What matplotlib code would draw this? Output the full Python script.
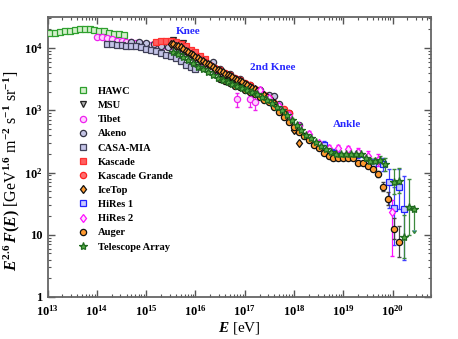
import matplotlib
matplotlib.use('Agg')
import matplotlib.pyplot as plt
import numpy as np
from matplotlib.ticker import FuncFormatter, LogLocator

plt.rcParams['font.family'] = ['Liberation Serif', 'DejaVu Serif']
plt.rcParams['font.weight'] = 'bold'
plt.rcParams['mathtext.fontset'] = 'custom'
plt.rcParams['mathtext.rm'] = 'Liberation Serif:bold'
plt.rcParams['mathtext.it'] = 'Liberation Serif:bold:italic'
plt.rcParams['mathtext.bf'] = 'Liberation Serif:bold'

# --- data: log10(E/eV) and log10(E^2.6 F(E)) ---
hawc_le = [13.05, 13.15, 13.25, 13.35, 13.45, 13.55, 13.65, 13.75, 13.85, 13.95,
           14.05, 14.15, 14.25, 14.35, 14.45, 14.55]
hawc_lf = [4.24, 4.25, 4.26, 4.27, 4.28, 4.29, 4.30, 4.30, 4.30, 4.29,
           4.28, 4.27, 4.25, 4.23, 4.22, 4.21]

msu_le = [15.55, 15.75, 15.95, 16.05, 16.25, 16.5, 16.75, 17.0]
msu_lf = [4.13, 4.08, 3.86, 3.70, 3.73, 3.62, 3.52, 3.40]

tibet_le = [14.0, 14.1, 14.2, 14.3, 14.4, 14.5, 14.6, 14.7, 14.8, 14.9, 15.0, 15.1,
            15.2, 15.3, 15.4, 15.5, 15.6, 15.7, 15.8, 15.9, 16.0, 16.2, 16.4, 16.6,
            16.85, 17.1, 17.2]
tibet_lf = [4.18, 4.17, 4.16, 4.14, 4.12, 4.11, 4.10, 4.09, 4.08, 4.07, 4.06, 4.05,
            4.04, 4.04, 4.04, 4.03, 4.00, 3.96, 3.92, 3.87, 3.83, 3.73, 3.64, 3.55,
            3.18, 3.18, 3.13]

akeno_le = [14.7, 14.85, 15.0, 15.15, 15.3, 15.45, 15.6, 15.75, 15.9, 16.05, 16.2,
            16.35, 16.5, 16.7, 16.9, 17.1, 17.3, 17.5, 17.6, 17.7, 17.9, 18.1]
akeno_lf = [4.10, 4.10, 4.08, 4.06, 4.04, 4.02, 3.99, 3.95, 3.91, 3.85, 3.80,
            3.77, 3.66, 3.58, 3.50, 3.41, 3.33, 3.25, 3.23, 3.10, 2.95, 2.76]

casa_le = [14.2, 14.3, 14.4, 14.5, 14.6, 14.7, 14.8, 14.9, 15.0, 15.1, 15.2, 15.3,
           15.4, 15.5, 15.6, 15.7, 15.8, 15.9, 16.0]
casa_lf = [4.06, 4.06, 4.05, 4.05, 4.04, 4.04, 4.03, 4.01, 3.99, 3.97, 3.95, 3.92,
           3.89, 3.87, 3.84, 3.79, 3.73, 3.69, 3.66]

kascade_le = [15.2, 15.3, 15.4, 15.5, 15.6, 15.7, 15.8, 15.9, 16.0, 16.1, 16.2]
kascade_lf = [4.10, 4.11, 4.12, 4.11, 4.09, 4.06, 4.03, 3.97, 3.93, 3.88, 3.83]

kg_le = [16.2, 16.3, 16.4, 16.5, 16.6, 16.7, 16.8, 16.9, 17.0, 17.1, 17.2, 17.3,
         17.4, 17.5, 17.6, 17.7, 17.8, 17.9]
kg_lf = [3.78, 3.73, 3.68, 3.64, 3.60, 3.56, 3.52, 3.48, 3.44, 3.40, 3.35, 3.30,
         3.24, 3.19, 3.12, 3.06, 3.02, 2.95]

icetop_le = [15.50, 15.55, 15.60, 15.65, 15.70, 15.75, 15.80, 15.85, 15.90, 15.95,
             16.00, 16.05, 16.10, 16.15, 16.20, 16.25, 16.30, 16.35, 16.40, 16.45,
             16.50, 16.55, 16.60, 16.65, 16.70, 16.75, 16.80, 16.85, 16.90, 16.95,
             17.00, 17.05, 17.10, 17.15, 17.20, 17.25, 17.30, 17.35, 17.40, 17.45,
             17.50, 17.55, 17.60, 17.80, 18.00, 18.10]
icetop_lf = [4.07, 4.06, 4.04, 4.03, 4.01, 3.99, 3.96, 3.94, 3.91, 3.89,
             3.86, 3.84, 3.81, 3.79, 3.76, 3.74, 3.72, 3.70, 3.67, 3.65,
             3.63, 3.61, 3.59, 3.57, 3.55, 3.53, 3.51, 3.49, 3.47, 3.45,
             3.43, 3.41, 3.38, 3.36, 3.34, 3.31, 3.29, 3.26, 3.24, 3.21,
             3.18, 3.15, 3.12, 2.96, 2.68, 2.47]

hires1_le = [18.6, 18.8, 18.9, 19.1, 19.3, 19.5, 19.6, 19.8, 19.93, 20.03, 20.13, 20.24]
hires1_lf = [2.45, 2.32, 2.28, 2.27, 2.30, 2.16, 2.13, 2.13, 1.85, 1.43, 1.76, 1.42]
hires1_lo = [2.40, 2.27, 2.23, 2.22, 2.24, 2.08, 2.04, 2.02, 1.43, 0.84, 1.41, 0.60]
hires1_hi = [2.50, 2.37, 2.33, 2.32, 2.36, 2.23, 2.21, 2.23, 2.05, 1.76, 2.05, 1.94]

hires2_le = [17.3, 17.5, 17.7, 17.9, 18.1, 18.3, 18.5, 18.7, 18.9, 19.1, 19.3, 19.5,
             19.7, 19.99]
hires2_lf = [3.32, 3.20, 3.07, 2.93, 2.75, 2.62, 2.47, 2.40, 2.39, 2.37, 2.33, 2.27,
             2.20, 1.37]
hires2_lo = [3.26, 3.14, 3.02, 2.89, 2.71, 2.58, 2.43, 2.36, 2.34, 2.32, 2.27, 2.19,
             2.10, 0.66]
hires2_hi = [3.38, 3.26, 3.12, 2.97, 2.79, 2.66, 2.51, 2.44, 2.44, 2.42, 2.39, 2.34,
             2.29, 1.56]

auger_le = [16.5, 16.6, 16.7, 16.8, 16.9, 17.0, 17.1, 17.2, 17.3, 17.4, 17.5, 17.6,
            17.7, 17.8, 17.9, 18.0, 18.1, 18.2, 18.3, 18.4, 18.5, 18.6, 18.7, 18.8,
            18.9, 19.0, 19.1, 19.2, 19.3, 19.4, 19.5, 19.6, 19.7, 19.8, 19.9, 20.03,
            20.13]
auger_lf = [3.50, 3.47, 3.44, 3.39, 3.37, 3.32, 3.29, 3.26, 3.22, 3.16, 3.13, 3.06,
            2.98, 2.89, 2.81, 2.73, 2.65, 2.58, 2.52, 2.45, 2.39, 2.32, 2.26, 2.23,
            2.23, 2.24, 2.24, 2.24, 2.16, 2.15, 2.10, 2.06, 1.97, 1.77, 1.58, 1.10,
            0.89]
auger_err = [0.02] * 30 + [0.03, 0.04, 0.05, 0.07, 0.10, 0.17, 0.25]

ta_le = [15.55, 15.65, 15.75, 15.85, 15.95, 16.05, 16.15, 16.25, 16.35, 16.45, 16.55,
         16.65, 16.75, 16.85, 16.95, 17.05, 17.15, 17.25, 17.35, 17.45, 17.55, 17.65,
         17.75, 17.85, 17.95, 18.05, 18.15, 18.25, 18.35, 18.45, 18.55, 18.65, 18.75,
         18.85, 18.95, 19.05, 19.15, 19.25, 19.35, 19.45, 19.55, 19.65, 19.75, 19.85,
         20.03, 20.13, 20.24, 20.34, 20.44]
ta_lf = [3.94, 3.90, 3.86, 3.81, 3.76, 3.70, 3.66, 3.62, 3.57, 3.52, 3.48,
         3.45, 3.42, 3.39, 3.36, 3.33, 3.30, 3.26, 3.21, 3.17, 3.12, 3.06,
         3.00, 2.93, 2.85, 2.76, 2.68, 2.61, 2.55, 2.49, 2.43, 2.37, 2.33,
         2.30, 2.29, 2.29, 2.29, 2.29, 2.30, 2.24, 2.19, 2.18, 2.20, 2.13,
         1.85, 1.87, 0.97, 1.45, 1.42]
ta_err = [0.02] * 40 + [0.04, 0.05, 0.07, 0.10, 0.20, 0.20, 0.35, 0.45, 0.0]


def lin(v):
    return 10 ** np.asarray(v, dtype=float)


fig = plt.figure(figsize=(4.58, 3.39), dpi=100)
ax = fig.add_axes([0.104, 0.124, 0.837, 0.826])

ms = 4.5
styles = [
    ('HAWC', hawc_le, hawc_lf, dict(marker='s', mfc='#d4f0cc', mec='#2ea02e')),
    ('MSU', msu_le, msu_lf, dict(marker='v', mfc='#b0b0b0', mec='#222222')),
    ('Tibet', tibet_le, tibet_lf, dict(marker='o', mfc='#ffd0ff', mec='#ee22ee')),
    ('Akeno', akeno_le, akeno_lf, dict(marker='o', mfc='#c4c4e4', mec='#333344')),
    ('CASA-MIA', casa_le, casa_lf, dict(marker='s', mfc='#c4c4e8', mec='#404058')),
    ('Kascade', kascade_le, kascade_lf, dict(marker='s', mfc='#ff6060', mec='#ff3030')),
    ('Kascade Grande', kg_le, kg_lf, dict(marker='o', mfc='#ff7070', mec='#ff2020')),
    ('IceTop', icetop_le, icetop_lf, dict(marker='d', mfc='#ff9a30', mec='#111111')),
    ('HiRes 1', hires1_le, hires1_lf, dict(marker='s', mfc='#c8c8ff', mec='#2020ff')),
    ('HiRes 2', hires2_le, hires2_lf, dict(marker='d', mfc='#ffe0ff', mec='#ff10ff')),
    ('Auger', auger_le, auger_lf, dict(marker='o', mfc='#ff9a30', mec='#111111')),
    ('Telescope Array', ta_le, ta_lf, dict(marker='*', mfc='#55aa44', mec='#1f6a1f')),
]

# error bars
tib_e = np.array(tibet_lf[-3:])
ax.errorbar(lin(tibet_le[-3:]), lin(tib_e), yerr=[lin(tib_e) - lin(tib_e - 0.13), lin(tib_e + 0.1) - lin(tib_e)],
            fmt='none', ecolor='#ee22ee', elinewidth=0.9, capsize=1.5, zorder=2)
hf = lin(hires1_lf)
ax.errorbar(lin(hires1_le), hf, yerr=[hf - lin(hires1_lo), lin(hires1_hi) - hf],
            fmt='none', ecolor='#4040ff', elinewidth=0.9, capsize=1.5, zorder=2)
h2 = lin(hires2_lf)
ax.errorbar(lin(hires2_le), h2, yerr=[h2 - lin(hires2_lo), lin(hires2_hi) - h2],
            fmt='none', ecolor='#ff10ff', elinewidth=0.9, capsize=1.5, zorder=2)
af = np.array(auger_lf)
ax.errorbar(lin(auger_le), lin(af), yerr=[lin(af) - lin(af - np.array(auger_err)),
                                          lin(af + np.array(auger_err)) - lin(af)],
            fmt='none', ecolor='#444444', elinewidth=0.9, capsize=1.5, zorder=2)
tf = np.array(ta_lf)
ax.errorbar(lin(ta_le[:-1]), lin(tf[:-1]),
            yerr=[lin(tf[:-1]) - lin(tf[:-1] - np.array(ta_err[:-1])),
                  lin(tf[:-1] + np.array(ta_err[:-1])) - lin(tf[:-1])],
            fmt='none', ecolor='#3c8a3c', elinewidth=0.9, capsize=1.5, zorder=2)
ax.errorbar(lin(ta_le[-1:]), lin(tf[-1:]), yerr=lin(tf[-1:]) * 0.55, uplims=True,
            fmt='none', ecolor='#3c8a3c', elinewidth=0.9, capsize=1.5, zorder=2)

for i, (name, le, lf, st) in enumerate(styles):
    ax.plot(lin(le), lin(lf), ls='none', ms=(ms + 1.5 if st['marker'] == '*' else ms),
            mew=0.9, label=name, zorder=3 + i * 0.1, **st)

ax.set_xscale('log')
ax.set_yscale('log')
ax.set_xlim(1e13, 6e20)
ax.set_ylim(1, 10 ** 4.5)

ax.xaxis.set_major_locator(LogLocator(base=10, numticks=20))
ax.xaxis.set_minor_locator(LogLocator(base=10, subs=np.arange(2, 10), numticks=100))
ax.xaxis.set_major_formatter(FuncFormatter(lambda v, p: r'$10^{%d}$' % round(np.log10(v))))


def yfmt(v, p):
    n = int(round(np.log10(v)))
    if n == 0:
        return '1'
    if n == 1:
        return '10'
    return r'$10^{%d}$' % n


ax.yaxis.set_major_formatter(FuncFormatter(yfmt))
ax.tick_params(which='both', direction='in', top=True, right=True, labelsize=9,
               color='#555555')
ax.tick_params(which='major', length=5, width=1)
ax.tick_params(which='minor', length=2.5, width=0.8)
ax.tick_params(axis='x', which='major', pad=5)
for sp in ax.spines.values():
    sp.set_color('#666666')
    sp.set_linewidth(1.3)

ax.set_xlabel(r'$E$ [eV]', fontsize=11, labelpad=1)
ax.set_ylabel(r'$E^{2.6}\,F(E)$ [GeV$^{1.6}$ m$^{-2}$ s$^{-1}$ sr$^{-1}$]', fontsize=11.5)
ax.yaxis.set_label_coords(-0.066, 0.45)

ax.text(lin(15.85), lin(4.27), 'Knee', color='#2828ff', fontsize=8, fontweight='bold',
        ha='center', va='center')
ax.text(lin(17.57), lin(3.68), '2nd Knee', color='#2828ff', fontsize=8, fontweight='bold',
        ha='center', va='center')
ax.text(lin(19.07), lin(2.77), 'Ankle', color='#2828ff', fontsize=8, fontweight='bold',
        ha='center', va='center')

ax.legend(loc='upper left', bbox_to_anchor=(0.065, 0.77), frameon=False, fontsize=7.6,
          handlelength=1.0, handletextpad=0.9, labelspacing=0.45, borderpad=0,
          markerscale=1.0)

fig.savefig('out.png', dpi=100)
